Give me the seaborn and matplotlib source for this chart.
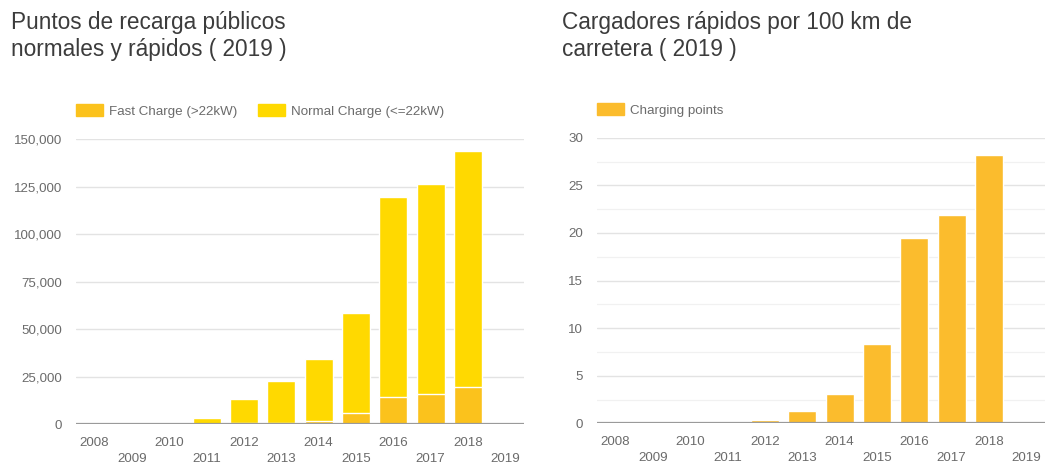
import matplotlib
matplotlib.use("Agg")
import matplotlib.pyplot as plt
from matplotlib.patches import Patch
from matplotlib.ticker import FuncFormatter, MultipleLocator
import seaborn as sns
import pandas as pd

years = [str(y) for y in range(2008, 2020)]
fast_charge = [0, 0, 0, 200, 500, 900, 2000, 5800, 14200, 15800, 19800, 0]
normal_charge = [0, 0, 0, 2900, 12600, 21900, 32200, 52600, 105300, 110500, 124000, 0]
fast_per_100km = [0, 0, 0, 0, 0.35, 1.3, 3.1, 8.3, 19.5, 21.9, 28.2, 0]

left_title = "Puntos de recarga públicos\nnormales y rápidos ( 2019 )"
right_title = "Cargadores rápidos por 100 km de\ncarretera ( 2019 )"

FAST_COLOR = "#FBC21C"
NORMAL_COLOR = "#FFD900"
POINTS_COLOR = "#FBBC2D"
TEXT_GRAY = "#6b6b6b"
TITLE_GRAY = "#3c3c3c"
TICK_SIZE = 9.6

sns.set_theme(style="white")
plt.rcParams["font.family"] = ["Liberation Sans", "DejaVu Sans"]

W, H = 1048, 465
fig = plt.figure(figsize=(W / 100, H / 100), dpi=100)


def px_axes(x0, x1, y_top, y_bottom):
    return fig.add_axes([x0 / W, (H - y_bottom) / H, (x1 - x0) / W, (y_bottom - y_top) / H])


def style_axes(ax, ymax, step, minor=None):
    ax.set_ylim(0, ymax)
    ax.set_xlim(-0.5, len(years) - 0.5)
    ax.yaxis.set_major_locator(MultipleLocator(step))
    if minor:
        ax.yaxis.set_minor_locator(MultipleLocator(minor))
        ax.grid(True, axis="y", which="minor", color="#f1f1f1", lw=0.9)
    ax.grid(True, axis="y", which="major", color="#e3e3e3", lw=1.0)
    ax.set_axisbelow(True)
    for s in ax.spines.values():
        s.set_visible(False)
    ax.axhline(0, color="#9a9a9a", lw=1.6, zorder=5)
    ax.set_xticks(range(len(years)))
    ax.set_xticklabels([y if i % 2 == 0 else "\n" + y for i, y in enumerate(years)],
                       linespacing=1.45)
    ax.tick_params(axis="x", length=0, pad=9, labelsize=TICK_SIZE, colors=TEXT_GRAY)
    ax.tick_params(axis="y", which="both", length=0, pad=10, labelsize=TICK_SIZE,
                   colors=TEXT_GRAY)
    ax.set_xlabel("")
    ax.set_ylabel("")


# Left: stacked public charging points
df_left = pd.DataFrame({"year": years, "fast": fast_charge, "normal": normal_charge})
df_left["total"] = df_left["fast"] + df_left["normal"]

ax1 = px_axes(76, 524, 139.3, 424.3)
sns.barplot(data=df_left, x="year", y="total", order=years, color=NORMAL_COLOR,
            saturation=1, width=0.75, ax=ax1, zorder=2)
sns.barplot(data=df_left, x="year", y="fast", order=years, color=FAST_COLOR,
            saturation=1, width=0.75, ax=ax1, zorder=3)
style_axes(ax1, 150000, 25000)
ax1.yaxis.set_major_formatter(FuncFormatter(lambda v, _: f"{int(v):,}"))

fig.legend(handles=[Patch(color=FAST_COLOR, label="Fast Charge (>22kW)"),
                    Patch(color=NORMAL_COLOR, label="Normal Charge (<=22kW)")],
           loc="center left", bbox_to_anchor=(76 / W, 1 - 111 / H), ncol=2,
           frameon=False, fontsize=TICK_SIZE, labelcolor=TEXT_GRAY, borderpad=0,
           borderaxespad=0, handlelength=2.0, handleheight=0.95,
           handletextpad=0.45, columnspacing=1.6)

# Right: fast chargers per 100 km of road
df_right = pd.DataFrame({"year": years, "points": fast_per_100km})
ax2 = px_axes(597, 1045, 137.7, 423.3)
sns.barplot(data=df_right, x="year", y="points", order=years, color=POINTS_COLOR,
            saturation=1, width=0.75, ax=ax2, zorder=2)
style_axes(ax2, 30, 5, minor=2.5)

fig.legend(handles=[Patch(color=POINTS_COLOR, label="Charging points")],
           loc="center left", bbox_to_anchor=(597 / W, 1 - 110 / H),
           frameon=False, fontsize=TICK_SIZE, labelcolor=TEXT_GRAY, borderpad=0,
           borderaxespad=0, handlelength=2.0, handleheight=0.95, handletextpad=0.45)

fig.text(11 / W, 1 - 11 / H, left_title, ha="left", va="top", fontsize=16.3,
         color=TITLE_GRAY, linespacing=1.2)
fig.text(562 / W, 1 - 11 / H, right_title, ha="left", va="top", fontsize=16.3,
         color=TITLE_GRAY, linespacing=1.2)

fig.savefig("out.png", dpi=100)
